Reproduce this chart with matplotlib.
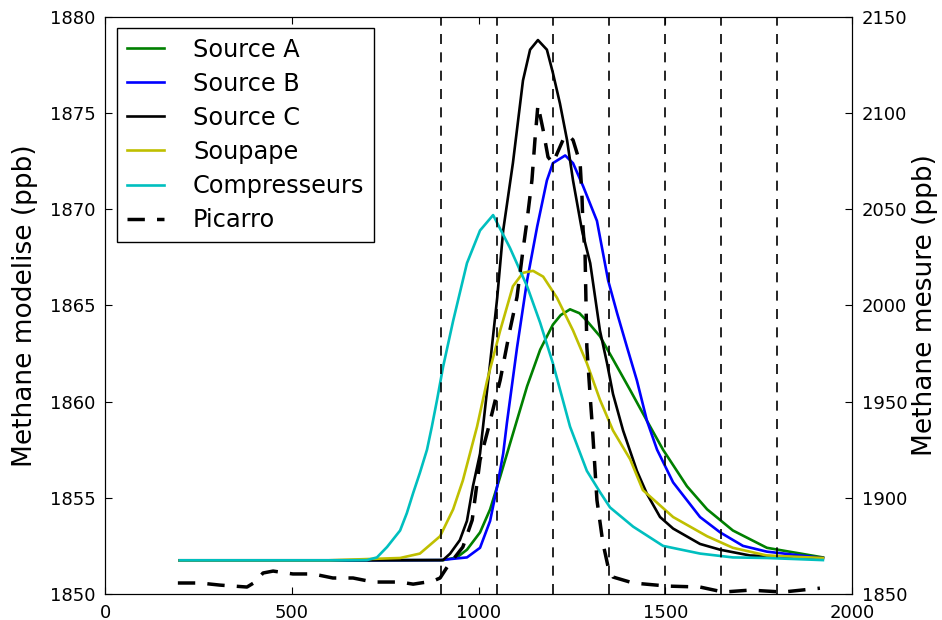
import numpy as np
import matplotlib
matplotlib.use("Agg")
import matplotlib.pyplot as plt

# distance along the track and modelled methane (ppb, left axis)
x_a = [200, 600, 905, 942, 969, 1004, 1031, 1058, 1084, 1130, 1165, 1199, 1220, 1245, 1270,
       1290, 1325, 1360, 1406, 1451, 1494, 1558, 1612, 1681, 1772, 1922]
y_a = [1851.75, 1851.75, 1851.76, 1851.9, 1852.3, 1853.2, 1854.4, 1856.1, 1857.8, 1860.8,
       1862.7, 1864.0, 1864.5, 1864.8, 1864.6, 1864.2, 1863.4, 1862.2, 1860.6, 1859.0,
       1857.5, 1855.6, 1854.4, 1853.3, 1852.4, 1851.9]

x_b = [200, 600, 897, 969, 1004, 1031, 1050, 1066, 1076, 1103, 1130, 1157, 1183, 1199,
       1232, 1253, 1280, 1317, 1347, 1371, 1398, 1424, 1451, 1478, 1521, 1593, 1647,
       1708, 1772, 1922]
y_b = [1851.75, 1851.75, 1851.76, 1851.9, 1852.4, 1853.8, 1855.6, 1857.3, 1858.9, 1862.8,
       1866.3, 1869.1, 1871.5, 1872.4, 1872.8, 1872.4, 1871.2, 1869.4, 1866.3, 1864.6,
       1862.8, 1861.1, 1859.0, 1857.5, 1855.8, 1854.0, 1853.2, 1852.5, 1852.2, 1851.87]

x_c = [200, 600, 905, 924, 950, 969, 985, 1004, 1031, 1050, 1066, 1092, 1119, 1138,
       1159, 1183, 1199, 1218, 1237, 1253, 1277, 1299, 1325, 1344, 1360, 1387, 1424,
       1451, 1486, 1521, 1593, 1647, 1727, 1922]
y_c = [1851.75, 1851.75, 1851.76, 1852.1, 1852.8, 1853.8, 1855.6, 1857.3, 1862.0, 1865.4,
       1868.9, 1872.4, 1876.7, 1878.3, 1878.8, 1878.3, 1877.1, 1875.5, 1873.6, 1871.5,
       1868.9, 1867.2, 1863.7, 1862.0, 1860.4, 1858.5, 1856.4, 1855.2, 1854.0, 1853.4,
       1852.6, 1852.3, 1852.0, 1851.87]

x_soup = [200, 600, 790, 843, 897, 932, 958, 996, 1023, 1058, 1092, 1119, 1146, 1173,
          1210, 1253, 1290, 1325, 1360, 1406, 1440, 1521, 1612, 1681, 1772, 1922]
y_soup = [1851.75, 1851.75, 1851.87, 1852.1, 1853.0, 1854.4, 1855.9, 1858.7, 1861.1,
          1863.7, 1866.0, 1866.7, 1866.8, 1866.5, 1865.4, 1863.7, 1862.0, 1860.1, 1858.5,
          1857.0, 1855.4, 1854.0, 1853.0, 1852.4, 1852.0, 1851.87]

x_comp = [200, 650, 701, 728, 755, 790, 808, 825, 843, 862, 875, 889, 905, 932, 969, 1004,
          1039, 1084, 1130, 1165, 1199, 1245, 1290, 1325, 1352, 1414, 1494, 1593, 1681,
          1772, 1922]
y_comp = [1851.75, 1851.75, 1851.76, 1851.9, 1852.44, 1853.3, 1854.2, 1855.25, 1856.3,
          1857.5, 1858.7, 1860.1, 1861.8, 1864.2, 1867.2, 1868.9, 1869.7, 1868.0, 1866.0,
          1864.1, 1862.0, 1858.7, 1856.4, 1855.3, 1854.5, 1853.5, 1852.5, 1852.1, 1851.9,
          1851.87, 1851.76]

# measured methane (ppb, right axis)
x_pic = [195, 254, 308, 380, 402, 423, 450, 503, 557, 610, 664, 718, 790, 825, 878, 897,
         916, 958, 983, 1004, 1025, 1058, 1084, 1103, 1119, 1130, 1143, 1151, 1159, 1173,
         1186, 1199, 1226, 1240, 1253, 1272, 1277, 1280, 1285, 1290, 1299, 1304, 1317,
         1333, 1347, 1360, 1414, 1505, 1593, 1655, 1727, 1815, 1914]
y_pic = [1855.7, 1855.7, 1854.6, 1853.6, 1856.2, 1860.9, 1861.9, 1860.4, 1860.4, 1858.3,
         1858.3, 1856.2, 1856.2, 1855.1, 1856.7, 1858.3, 1864.0, 1874.4, 1888.4, 1919.6,
         1935.2, 1961.2, 1987.2, 2004.4, 2028.8, 2044.4, 2065.2, 2086.0, 2104.2, 2091.2,
         2077.2, 2074.0, 2086.0, 2088.6, 2086.0, 2074.0, 2056.4, 2039.2, 2028.8, 1978.4,
         1952.4, 1939.0, 1898.8, 1876.5, 1864.0, 1858.8, 1855.7, 1854.1, 1853.6, 1851.0,
         1852.0, 1851.0, 1853.0]

vlines_x = [900, 1050, 1200, 1350, 1500, 1650, 1800]

fig = plt.figure(figsize=(9.42, 6.2), dpi=100)
ax = fig.add_axes([0.1115, 0.042, 0.793, 0.9306])
ax2 = ax.twinx()

lw = 1.9
h1, = ax.plot(x_a, y_a, color=(0, 0.5, 0), lw=lw, label="Source A")
h2, = ax.plot(x_b, y_b, color=(0, 0, 1), lw=lw, label="Source B")
h3, = ax.plot(x_c, y_c, color="k", lw=lw, label="Source C")
h4, = ax.plot(x_soup, y_soup, color=(0.75, 0.75, 0), lw=lw, label="Soupape")
h5, = ax.plot(x_comp, y_comp, color=(0, 0.75, 0.75), lw=lw, label="Compresseurs")
h6, = ax2.plot(x_pic, y_pic, color="k", lw=2.5, dashes=(5, 3.5), label="Picarro")

for xv in vlines_x:
    ax.axvline(xv, color="k", lw=1.2, dashes=(6, 5))

ax.set_xlim(0, 2000)
ax.set_ylim(1850, 1880)
ax2.set_ylim(1850, 2150)
ax.set_xticks([0, 500, 1000, 1500, 2000])
ax.set_yticks(np.arange(1850, 1881, 5))
ax2.set_yticks(np.arange(1850, 2151, 50))

ax.tick_params(direction="in", top=True, labelsize=13, length=5, pad=7)
ax2.tick_params(direction="in", labelsize=13, length=5, pad=7)

ax.set_ylabel("Methane modelise (ppb)", fontsize=19, labelpad=8)
ax2.set_ylabel("Methane mesure (ppb)", fontsize=19, labelpad=3)

leg = ax2.legend(handles=[h1, h2, h3, h4, h5, h6], loc="upper left",
                 bbox_to_anchor=(0.016, 0.981), borderaxespad=0, fontsize=17.3,
                 fancybox=False, framealpha=1, edgecolor="k", handlelength=1.56,
                 handletextpad=1.2, labelspacing=0.42, borderpad=0.4)
leg.get_frame().set_linewidth(1.0)

fig.savefig("out.png", dpi=100)
